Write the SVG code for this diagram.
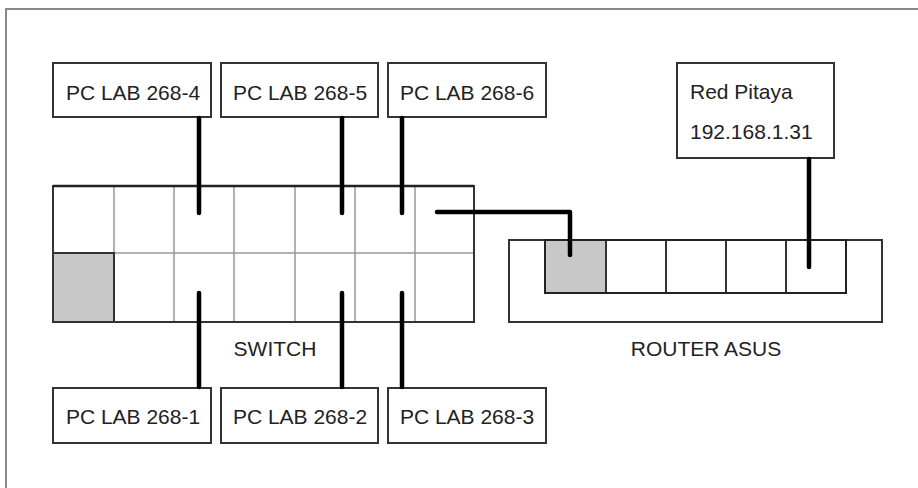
<svg xmlns="http://www.w3.org/2000/svg" width="918" height="488" viewBox="0 0 918 488">
<style>
.box{fill:#fff;stroke:#333;stroke-width:2}
.lbl{font-family:"Liberation Sans",Arial,sans-serif;font-size:21px;fill:#222}
.mid{text-anchor:middle}
.grid{stroke:#999;stroke-width:1.5;fill:none}
.port{fill:#c8c8c8;stroke:#333;stroke-width:2}
.wire{stroke:#000;stroke-width:4.5;fill:none;stroke-linecap:round;stroke-linejoin:round}
</style>
<rect width="918" height="488" fill="#fff"/>
<path d="M6,488 V9 H918" fill="none" stroke="#888" stroke-width="2"/>

<g id="switch">
<rect x="53" y="186" width="421" height="136" fill="#fff"/>
<path class="grid" d="M114,186V322 M174,186V322 M234,186V322 M295,186V322 M355,186V322 M415,186V322 M53,253H474"/>
<rect class="port" x="53" y="253" width="61" height="69"/>
<rect x="53" y="186" width="421" height="136" fill="none" stroke="#333" stroke-width="2"/>
<path d="M53,186H474" stroke="#222" stroke-width="2.5"/>
<text class="lbl mid" x="275" y="356">SWITCH</text>
</g>

<g id="router">
<rect class="box" x="509" y="240" width="373" height="82"/>
<rect class="port" x="545" y="240" width="61" height="53"/>
<path d="M606,240V293 M666,240V293 M726,240V293 M786,240V293" stroke="#333" stroke-width="2"/>
<rect x="545" y="240" width="301" height="53" fill="none" stroke="#222" stroke-width="2"/>
<text class="lbl mid" x="706" y="356">ROUTER ASUS</text>
</g>

<g id="pc4"><rect class="box" x="53" y="63" width="158" height="54"/><text class="lbl mid" x="133" y="100">PC LAB 268-4</text></g>
<g id="pc5"><rect class="box" x="221" y="63" width="157" height="54"/><text class="lbl mid" x="300" y="100">PC LAB 268-5</text></g>
<g id="pc6"><rect class="box" x="388" y="63" width="158" height="54"/><text class="lbl mid" x="467" y="100">PC LAB 268-6</text></g>
<g id="pc1"><rect class="box" x="53" y="388" width="158" height="55"/><text class="lbl mid" x="133" y="424">PC LAB 268-1</text></g>
<g id="pc2"><rect class="box" x="221" y="388" width="157" height="55"/><text class="lbl mid" x="300" y="424">PC LAB 268-2</text></g>
<g id="pc3"><rect class="box" x="388" y="388" width="158" height="55"/><text class="lbl mid" x="467" y="424">PC LAB 268-3</text></g>
<g id="redpitaya"><rect class="box" x="677" y="63" width="157" height="95"/><text class="lbl" x="690" y="99">Red Pitaya</text><text class="lbl" x="690" y="139">192.168.1.31</text></g>

<g id="connectors">
<path class="wire" d="M199,118V213"/>
<path class="wire" d="M342,118V213"/>
<path class="wire" d="M402,118V213"/>
<path class="wire" d="M199,293V387"/>
<path class="wire" d="M342,293V387"/>
<path class="wire" d="M402,293V387"/>
<path class="wire" d="M437,212H570V255"/>
<path class="wire" d="M809,159V267"/>
</g>
</svg>
